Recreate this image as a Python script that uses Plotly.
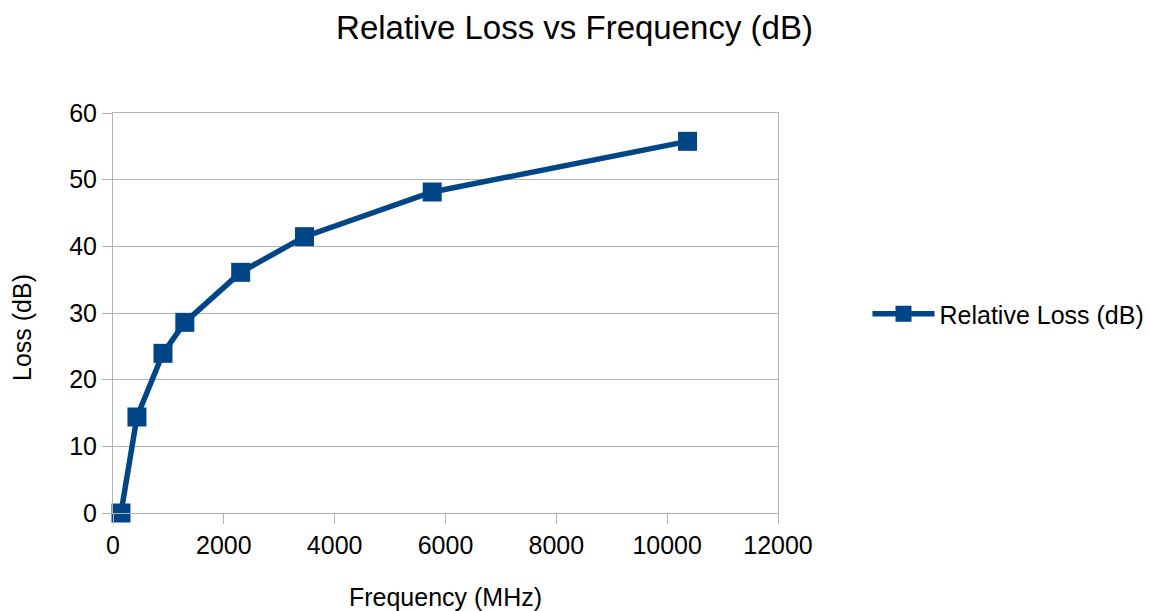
import plotly.graph_objects as go

frequency_mhz = [144, 432, 902, 1296, 2304, 3456, 5760, 10368]
relative_loss_db = [0.0, 14.4, 23.95, 28.6, 36.1, 41.45, 48.15, 55.75]
series_name = "Relative Loss (dB)"
chart_title = "Relative Loss vs Frequency (dB)"
x_title = "Frequency (MHz)"
y_title = "Loss (dB)"

blue = "#004586"
grid = "#b3b3b3"
font_family = "Liberation Sans, Arial, sans-serif"

fig = go.Figure()
fig.add_trace(go.Scatter(
    x=frequency_mhz, y=relative_loss_db, name=series_name,
    mode="lines+markers",
    line=dict(color=blue, width=5.5),
    marker=dict(symbol="square", size=19, color=blue),
    cliponaxis=False,
    showlegend=True,
))

fig.update_layout(
    width=1149, height=611,
    margin=dict(l=113, r=371, t=113, b=98),
    paper_bgcolor="white", plot_bgcolor="white",
    font=dict(family=font_family, size=25, color="black"),
    title=dict(text=chart_title, x=0.5, xref="container", xanchor="center",
               y=0.955, yref="container", yanchor="middle",
               font=dict(size=33, color="black")),
    showlegend=True,
    legend=dict(xref="container", yref="container", x=0.755, y=0.486,
                xanchor="left", yanchor="middle", itemwidth=62,
                font=dict(size=25, color="black"), bgcolor="rgba(0,0,0,0)"),
    annotations=[dict(
        text=y_title, textangle=-90, showarrow=False,
        xref="paper", yref="paper", x=(22 - 113) / 665, y=(513 - 328) / 400,
        xanchor="center", yanchor="middle", font=dict(size=25, color="black"),
    )],
)

fig.update_xaxes(
    range=[0, 12000], dtick=2000, tick0=0, tickformat="d",
    showgrid=False, zeroline=False, automargin=False,
    showline=True, linecolor=grid, linewidth=1, mirror=True,
    ticks="outside", ticklen=10, tickcolor=grid, tickwidth=1,
    tickfont=dict(size=25),
    title=dict(text=x_title, font=dict(size=25), standoff=37),
)
fig.update_yaxes(
    range=[0, 60], dtick=10, tick0=0,
    showgrid=True, gridcolor=grid, gridwidth=1, zeroline=False, automargin=False,
    showline=True, linecolor=grid, linewidth=1, mirror=True,
    ticks="outside", ticklen=10, tickcolor=grid, tickwidth=1,
    tickfont=dict(size=25),
)

fig.write_html("out.html")
